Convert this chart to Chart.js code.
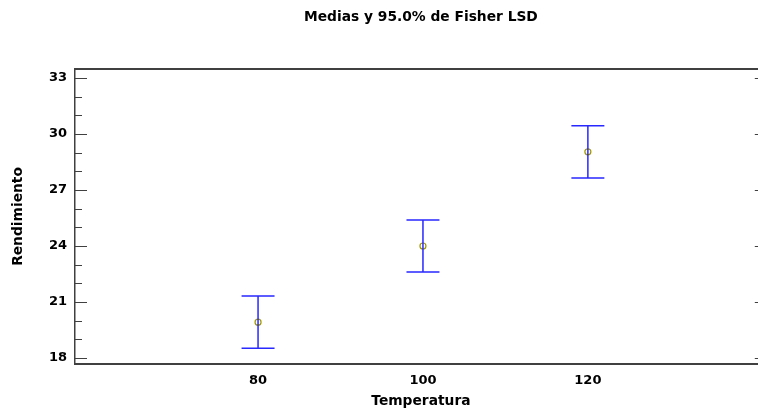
<!DOCTYPE html>
<html>
<head>
<meta charset="utf-8">
<script src="https://cdn.jsdelivr.net/npm/chart.js@4"></script>
<style>
  html, body { margin: 0; background: #fff; overflow: hidden; }
  #wrap { width: 772px; height: 411px; }
</style>
</head>
<body>
<div id="wrap"><canvas id="chart"></canvas></div>
<script>
const temperaturas = [80, 100, 120]
const medias = [19.92, 24.0, 29.04]
const limInferior = [18.52, 22.61, 27.64]
const limSuperior = [21.32, 25.39, 30.44]
const xTicks = [80, 100, 120]
const yTicks = [18, 21, 24, 27, 30, 33]
const yMinorTicks = [19, 20, 22, 23, 25, 26, 28, 29, 31, 32]
const capHalf = 2

const barColor = 'rgb(40,40,255)'
const frameColor = '#404040'
const fontTicks = { family: 'DejaVu Sans', size: 13, weight: 'bold' }
const fontTitle = { family: 'DejaVu Sans', size: 13.8, weight: 'bold' }

const datasets = []
for (let i = 0; i < temperaturas.length; i++) {
  const x = temperaturas[i]
  datasets.push({
    type: 'scatter',
    showLine: true,
    spanGaps: false,
    borderColor: barColor,
    borderWidth: 1.5,
    pointRadius: 0,
    data: [
      { x: x - capHalf, y: limInferior[i] },
      { x: x + capHalf, y: limInferior[i] },
      { x: x, y: null },
      { x: x, y: limInferior[i] },
      { x: x, y: limSuperior[i] },
      { x: x, y: null },
      { x: x - capHalf, y: limSuperior[i] },
      { x: x + capHalf, y: limSuperior[i] },
    ],
  })
}
datasets.push({
  type: 'scatter',
  data: temperaturas.map((t, i) => ({ x: t, y: medias[i] })),
  pointStyle: 'circle',
  pointRadius: 3,
  pointBorderWidth: 1.2,
  pointBorderColor: 'rgb(160,150,0)',
  pointBackgroundColor: 'rgba(255,255,255,0)',
})

// marcas interiores del eje Y (izquierda y derecha)
const innerTicks = {
  id: 'innerTicks',
  afterDraw (chart) {
    const ctx = chart.ctx
    const y = chart.scales.y
    const area = chart.chartArea
    ctx.save()
    ctx.strokeStyle = frameColor
    ctx.lineWidth = 1
    ctx.beginPath()
    yTicks.forEach(v => {
      const py = Math.round(y.getPixelForValue(v)) + 0.5
      ctx.moveTo(area.left, py)
      ctx.lineTo(area.left + 12, py)
      ctx.moveTo(area.right - 12, py)
      ctx.lineTo(area.right, py)
    })
    yMinorTicks.forEach(v => {
      const py = Math.round(y.getPixelForValue(v)) + 0.5
      ctx.moveTo(area.left, py)
      ctx.lineTo(area.left + 7, py)
    })
    ctx.stroke()
    ctx.restore()
  },
}

const config = {
  type: 'scatter',
  data: { datasets: datasets },
  options: {
    responsive: true,
    maintainAspectRatio: false,
    animation: false,
    layout: { padding: 0 },
    plugins: {
      legend: { display: false },
      tooltip: { enabled: false },
      title: {
        display: true,
        fullSize: false,
        text: 'Medias y 95.0% de Fisher LSD',
        color: '#000',
        font: fontTitle,
        padding: { top: 9, bottom: 43.4 },
      },
    },
    scales: {
      x: {
        type: 'linear',
        position: 'bottom',
        min: 57.8,
        max: 141.7,
        afterBuildTicks: s => { s.ticks = xTicks.map(v => ({ value: v })) },
        afterFit: s => { s.height = 47; s.paddingLeft = 0; s.paddingRight = 0 },
        grid: { display: false, drawTicks: false },
        border: { display: true, color: frameColor, width: 2 },
        ticks: { color: '#000', font: fontTicks, padding: 9 },
        title: {
          display: true,
          text: 'Temperatura',
          color: '#000',
          font: fontTitle,
          padding: { top: 2, bottom: 1 },
        },
      },
      xTop: {
        type: 'linear',
        position: 'top',
        min: 57.8,
        max: 141.7,
        afterFit: s => { s.height = 0; s.paddingLeft = 0; s.paddingRight = 0 },
        grid: { display: false, drawTicks: false },
        border: { display: true, color: frameColor, width: 2 },
        ticks: { display: false },
      },
      y: {
        type: 'linear',
        position: 'left',
        min: 17.68,
        max: 33.48,
        afterBuildTicks: s => { s.ticks = yTicks.map(v => ({ value: v })) },
        afterFit: s => { s.width = 75 },
        grid: { display: false, drawTicks: false },
        border: { display: true, color: frameColor, width: 1.5 },
        ticks: { color: '#000', font: fontTicks, padding: 8 },
        title: {
          display: true,
          text: 'Rendimiento',
          color: '#000',
          font: fontTitle,
          padding: { top: 10, bottom: 0 },
        },
      },
    },
  },
  plugins: [innerTicks],
}

const ctx = document.getElementById('chart').getContext('2d')
const myChart = new Chart(ctx, config)
</script>
</body>
</html>
